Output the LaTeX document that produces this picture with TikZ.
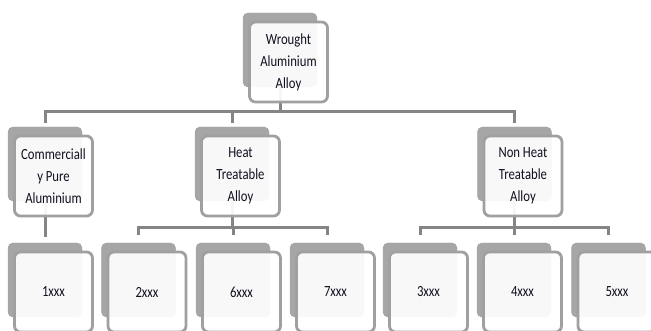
\documentclass[tikz,border=0pt]{standalone}
\usepackage{fontspec}
\newfontfamily\boxfont[FakeStretch=0.82]{Carlito}
\definecolor{backgray}{HTML}{A6A6A6}
\definecolor{framegray}{HTML}{A0A0A0}
\definecolor{linegray}{HTML}{858585}
\definecolor{textdark}{HTML}{101020}
\tikzset{
  backbox/.style={rectangle, minimum width=74pt, minimum height=74pt, rounded corners=5pt, fill=backgray, draw=none, inner sep=0pt},
  frontbox/.style={rectangle, minimum width=78pt, minimum height=80pt, rounded corners=6pt, draw=framegray, line width=2.8pt, fill=white, fill opacity=0.93, text opacity=1, align=center, inner sep=0pt, font=\boxfont\fontsize{15.5}{22}\selectfont, text=textdark},
  conn/.style={draw=linegray, line width=3pt}
}
\begin{document}
\begin{tikzpicture}[x={(1pt,0)}, y={(0,-1pt)}]
\useasboundingbox (0,0) rectangle (651,331);
% back boxes (positions)
\node[backbox] (top-b) at (280,50) {};
\node[backbox] (com-b) at (45,164) {};
\node[backbox] (heat-b) at (232,164) {};
\node[backbox] (nonheat-b) at (514.5,164) {};
\node[backbox] (x1-b) at (45,280) {};
\node[backbox] (x2-b) at (138.5,280) {};
\node[backbox] (x6-b) at (233,280) {};
\node[backbox] (x7-b) at (327,280) {};
\node[backbox] (x3-b) at (420,280) {};
\node[backbox] (x4-b) at (514,280) {};
\node[backbox] (x5-b) at (608.5,280) {};
% connectors
\coordinate (bus1) at (280,112);
\coordinate (bus2) at (232,228);
\coordinate (bus3) at (514.5,228);
\draw[conn] (top-b.center) -- (bus1);
\draw[conn,shorten >=4pt] (bus1) -| (com-b.north);
\draw[conn,shorten >=4pt] (bus1) -| (heat-b.north);
\draw[conn,shorten >=4pt] (bus1) -| (nonheat-b.north);
\draw[conn,shorten >=6pt] (com-b.center) -- (x1-b.north);
\draw[conn] (heat-b.center) -- (bus2);
\draw[conn,shorten >=8pt] (bus2) -| (x2-b.north);
\draw[conn,shorten >=8pt] (bus2) -| (x6-b.north);
\draw[conn,shorten >=8pt] (bus2) -| (x7-b.north);
\draw[conn] (nonheat-b.center) -- (bus3);
\draw[conn,shorten >=8pt] (bus3) -| (x3-b.north);
\draw[conn,shorten >=8pt] (bus3) -| (x4-b.north);
\draw[conn,shorten >=8pt] (bus3) -| (x5-b.north);
% redraw back boxes over connectors
\foreach \n in {top,com,heat,nonheat,x1,x2,x6,x7,x3,x4,x5}{
  \fill[backgray, rounded corners=5pt] (\n-b.north west) rectangle (\n-b.south east);
}
% front boxes
\node[frontbox] (top) at ([xshift=8.5pt,yshift=-12pt]top-b.center) {Wrought\\Aluminium\\Alloy};
\node[frontbox] (com) at ([xshift=8.5pt,yshift=-12pt]com-b.center) {Commerciall\\y Pure\\Aluminium};
\node[frontbox] (heat) at ([xshift=8.5pt,yshift=-12pt]heat-b.center) {Heat\\Treatable\\Alloy};
\node[frontbox] (nonheat) at ([xshift=8.5pt,yshift=-12pt]nonheat-b.center) {Non Heat\\Treatable\\Alloy};
\node[frontbox] (x1) at ([xshift=8.5pt,yshift=-12pt]x1-b.center) {1xxx};
\node[frontbox] (x2) at ([xshift=8.5pt,yshift=-12pt]x2-b.center) {2xxx};
\node[frontbox] (x6) at ([xshift=8.5pt,yshift=-12pt]x6-b.center) {6xxx};
\node[frontbox] (x7) at ([xshift=8.5pt,yshift=-12pt]x7-b.center) {7xxx};
\node[frontbox] (x3) at ([xshift=8.5pt,yshift=-12pt]x3-b.center) {3xxx};
\node[frontbox] (x4) at ([xshift=8.5pt,yshift=-12pt]x4-b.center) {4xxx};
\node[frontbox] (x5) at ([xshift=8.5pt,yshift=-12pt]x5-b.center) {5xxx};
\end{tikzpicture}
\end{document}
